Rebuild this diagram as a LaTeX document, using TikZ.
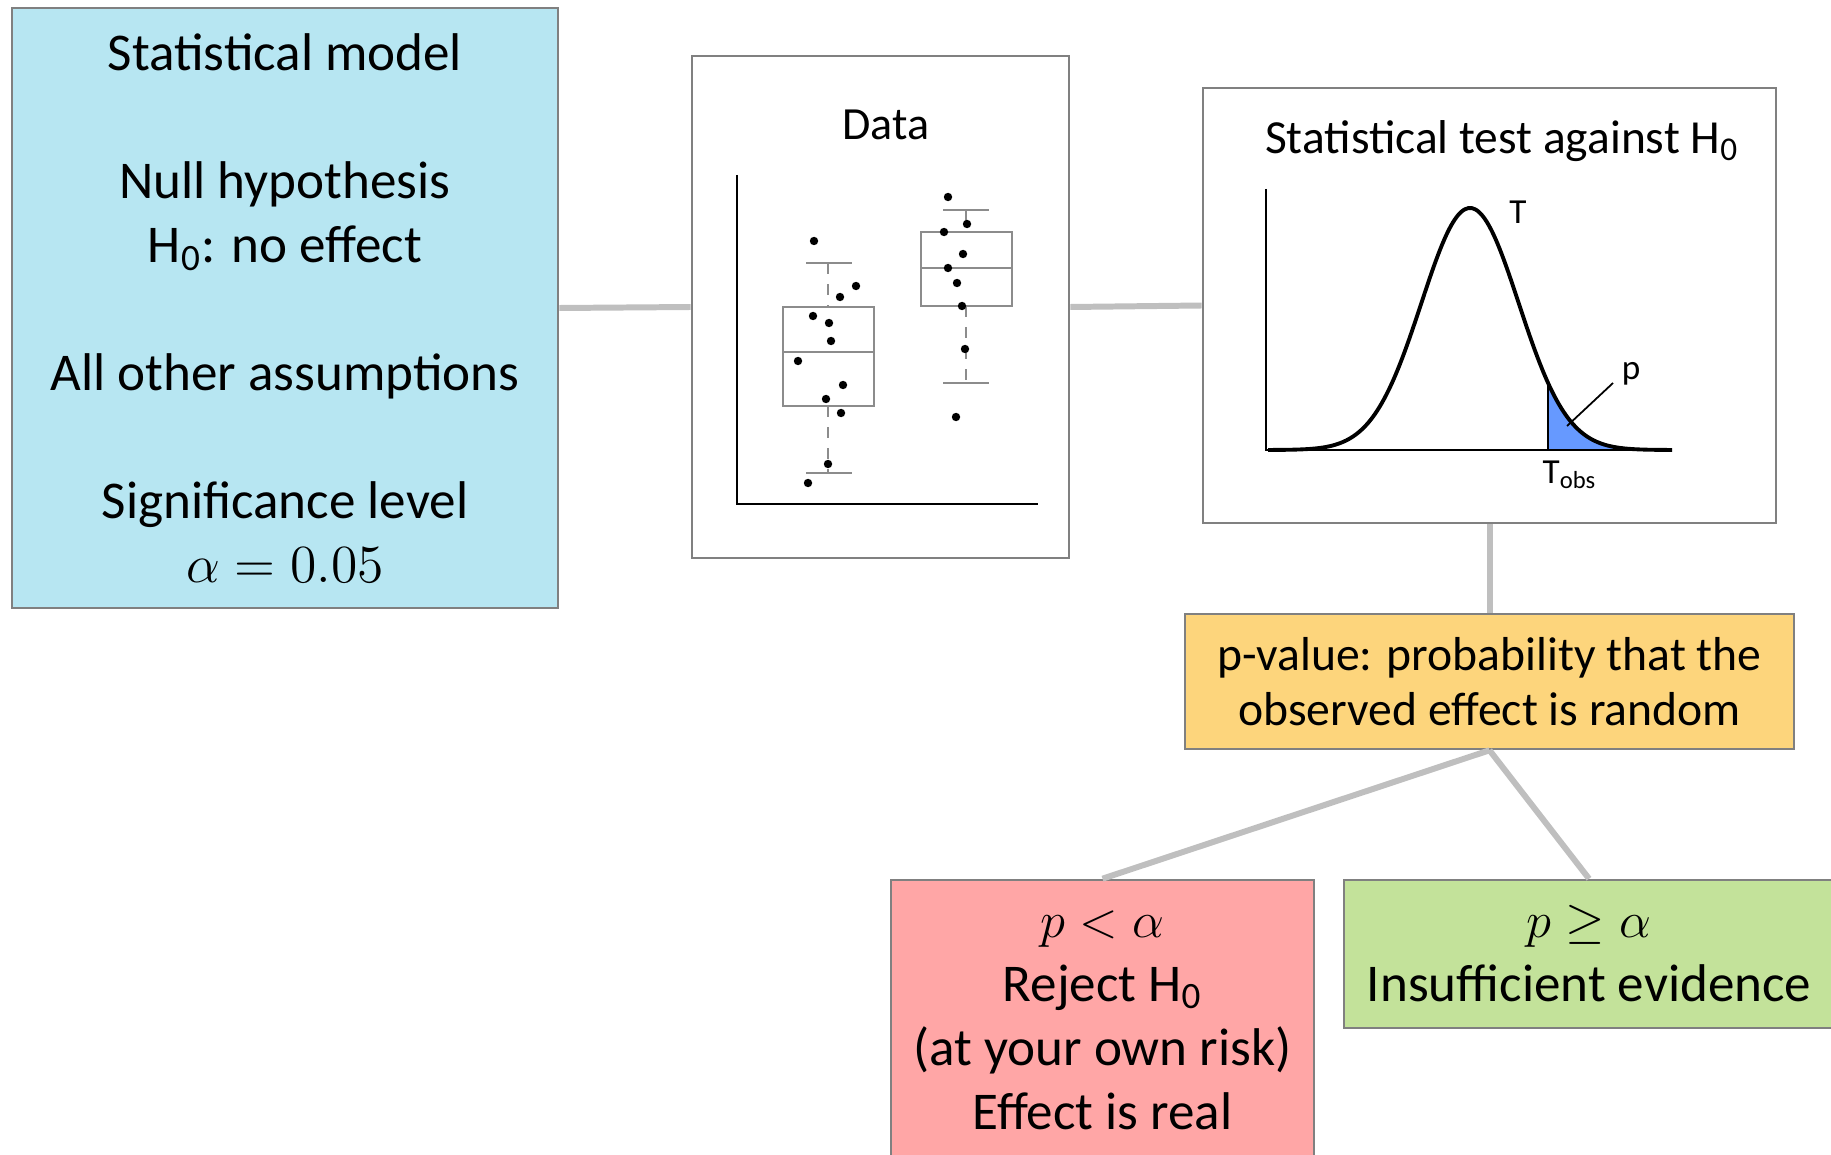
\documentclass[tikz,border=0pt]{standalone}
\usepackage[no-math]{fontspec}
\setmainfont{Carlito}
\usepackage{tikz}
\usetikzlibrary{positioning}

\definecolor{modelblue}{RGB}{183,230,242}
\definecolor{pvalorange}{RGB}{253,213,124}
\definecolor{rejectred}{RGB}{255,166,166}
\definecolor{keepgreen}{RGB}{195,226,154}
\definecolor{framegray}{RGB}{128,128,128}
\definecolor{linkgray}{RGB}{191,191,191}
\definecolor{boxgray}{RGB}{140,140,140}
\definecolor{tailblue}{RGB}{102,153,255}

\begin{document}
\begin{tikzpicture}[
                x=0.01cm, y=-0.01cm,
                every node/.style={align=center, font=\fontsize{15.1}{18.2}\selectfont},
                panel/.style={draw=framegray, line width=0.7pt, rectangle, inner sep=0pt},
                heading/.style={font=\fontsize{13.1}{15.7}\selectfont},
                pvaltext/.style={font=\fontsize{13.55}{15.6}\selectfont},
                tinylabel/.style={font=\fontsize{10}{12}\selectfont, inner sep=0pt},
                link/.style={draw=linkgray, line width=1.7pt},
                boxline/.style={draw=boxgray, line width=0.6pt},
                whisker/.style={boxline, dashed}]

            \useasboundingbox (0,0) rectangle (1831,1155);

            % Boxes
            \node[panel, fill=modelblue, minimum width=5.46cm, minimum height=6cm] (model) at (285,308)
                {Statistical model\\[18.2pt] Null hypothesis\\ H\textsubscript{0}: no effect\\[18.2pt]
                 All other assumptions\\[18.2pt] Significance level\\ \scalebox{1.06}{$\alpha = 0.05$}};
            \node[panel, minimum width=3.77cm, minimum height=5.02cm] (data) at (880.5,307) {};
            \node[heading] (datatitle) at (886,125) {Data};
            \node[panel, minimum width=5.73cm, minimum height=4.35cm] (test) at (1489.5,305.5) {};
            \node[heading, font=\fontsize{13.5}{16}\selectfont] (testtitle) at (1502,141) {Statistical test against H\textsubscript{0}};
            \node[panel, pvaltext, fill=pvalorange, minimum width=6.09cm, minimum height=1.35cm] (pval) at (1489.5,681.5)
                {p-value: probability that the\\ observed effect is random};
            \node[panel, fill=rejectred, minimum width=4.23cm, minimum height=2.8cm] (reject) at (1102.5,1020)
                {$p < \alpha$\\ Reject H\textsubscript{0}\\ (at your own risk)\\ Effect is real};
            \node[panel, fill=keepgreen, minimum width=4.9cm, minimum height=1.48cm] (keep) at (1589,954)
                {$p \geq \alpha$\\ Insufficient evidence};

            % Links
            \draw[link] (model.east) -- (data.west);
            \draw[link] (data.east) -- (test.west);
            \draw[link] (test.south) -- (pval.north);
            \draw[link] (pval.south) -- (reject.north);
            \draw[link] (pval.south) -- (keep.north);

            % Boxplots
            \draw[line width=0.8pt] (737,175) -- (737,504) -- (1038,504);
            \draw[boxline] (783,307) rectangle (874,406) (783,352) -- (874,352)
                (806,263) -- (852,263) (806,473) -- (852,473);
            \draw[whisker] (828,263) -- (828,307) (828,406) -- (828,473);
            \draw[boxline] (921,232) rectangle (1012,306) (921,268) -- (1012,268)
                (943,210) -- (989,210) (943,383) -- (989,383);
            \draw[whisker] (966,210) -- (966,232) (966,306) -- (966,383);
            \foreach \px/\py in {814/241, 856/286, 840/297, 813/316, 829/323, 831/341, 798/361,
                                 843/385, 826/399, 841/413, 828/464, 808/483,
                                 948/197, 967/224, 944/232, 963/254, 948/268, 957/283,
                                 962/306, 965/349, 956/417}
                \fill (\px,\py) circle[radius=0.042cm];

            % Distribution of T
            \fill[tailblue] (1548,450) -- plot[domain=1548:1672, samples=40]
                (\x,{450-242*exp(-((\x-1470)/48.7)*((\x-1470)/48.7)/2)}) -- (1672,450) -- cycle;
            \draw[line width=0.6pt] (1266,189) -- (1266,450) -- (1672,450);
            \draw[line width=0.5pt] (1548,450) -- (1548,383);
            \draw[line width=1.1pt] plot[domain=1268:1672, samples=120, smooth]
                (\x,{450-242*exp(-((\x-1470)/48.7)*((\x-1470)/48.7)/2)});
            \draw[line width=0.5pt] (1567,426) -- (1613,383);
            \node[tinylabel] (tlabel) at (1518,212) {T};
            \node[tinylabel] (plabel) at (1631,374) {p};
            \node[tinylabel, anchor=north west] (tobs) at (1542,460) {T\textsubscript{obs}};

        \end{tikzpicture}
\end{document}
